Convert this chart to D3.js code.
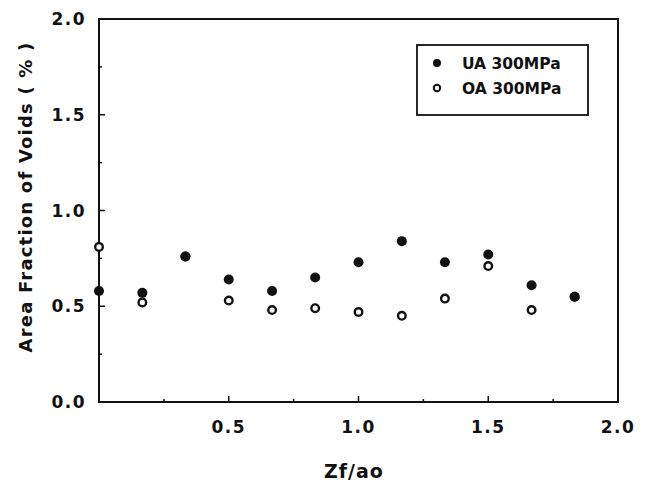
<!DOCTYPE html>
<html>
<head>
<meta charset="utf-8">
<script src="https://cdn.jsdelivr.net/npm/d3@7"></script>
<style>
  body { margin: 0; background: #fff; }
  svg text { font-family: "DejaVu Sans", Arial, sans-serif; font-weight: bold; fill: #111; }
</style>
</head>
<body>
<svg width="651" height="483"></svg>
<script>
// Zf/ao positions and measured void fractions (%)
var zf = [0, 0.167, 0.333, 0.5, 0.667, 0.833, 1.0, 1.167, 1.333, 1.5, 1.667, 1.833];
var ua = [0.58, 0.57, 0.76, 0.64, 0.58, 0.65, 0.73, 0.84, 0.73, 0.77, 0.61, 0.55];
var oa = [0.81, 0.52, 0.76, 0.53, 0.48, 0.49, 0.47, 0.45, 0.54, 0.71, 0.48, 0.55];
var xTicks = [0.5, 1.0, 1.5, 2.0];
var yTicks = [0.0, 0.5, 1.0, 1.5, 2.0];
var legendLabels = ["UA 300MPa", "OA 300MPa"];

var pl = 99, pr = 618, pt = 19, pb = 402;

var svg = d3.select("svg");
var x = d3.scaleLinear().domain([0, 2]).range([pl, pr]);
var y = d3.scaleLinear().domain([0, 2]).range([pb, pt]);

// frame
svg.append("rect")
  .attr("x", pl).attr("y", pt)
  .attr("width", pr - pl).attr("height", pb - pt)
  .attr("fill", "none").attr("stroke", "#111").attr("stroke-width", 2);

// inward ticks, major every 0.5, minor every 0.25
var minor = d3.range(0.25, 2, 0.25);
svg.append("g").selectAll("line").data(minor).enter().append("line")
  .attr("x1", function(d) { return x(d); }).attr("x2", function(d) { return x(d); })
  .attr("y1", pb).attr("y2", function(d) { return pb - (d % 0.5 == 0 ? 6 : 3); })
  .attr("stroke", "#111").attr("stroke-width", 1.5);
svg.append("g").selectAll("line").data(minor).enter().append("line")
  .attr("y1", function(d) { return y(d); }).attr("y2", function(d) { return y(d); })
  .attr("x1", pl).attr("x2", function(d) { return pl + (d % 0.5 == 0 ? 6 : 3); })
  .attr("stroke", "#111").attr("stroke-width", 1.5);

// tick labels
svg.append("g").selectAll("text").data(xTicks).enter().append("text")
  .attr("x", function(d) { return x(d); }).attr("y", 433)
  .attr("text-anchor", "middle").attr("font-size", 17).attr("letter-spacing", 1.5)
  .text(function(d) { return d.toFixed(1); });
svg.append("g").selectAll("text").data(yTicks).enter().append("text")
  .attr("x", 86).attr("y", function(d) { return y(d) + 6; })
  .attr("text-anchor", "end").attr("font-size", 17).attr("letter-spacing", 1.5)
  .text(function(d) { return d.toFixed(1); });

// axis titles
svg.append("text")
  .attr("x", 354).attr("y", 478)
  .attr("text-anchor", "middle").attr("font-size", 19).attr("letter-spacing", 1)
  .text("Zf/ao");
svg.append("text")
  .attr("transform", "translate(32,197) rotate(-90)")
  .attr("text-anchor", "middle").attr("font-size", 18).attr("letter-spacing", 1.2)
  .text("Area Fraction of Voids ( % )");

// points: open first, filled on top
svg.append("g").selectAll("circle").data(oa).enter().append("circle")
  .attr("cx", function(d, i) { return x(zf[i]); })
  .attr("cy", function(d) { return y(d); })
  .attr("r", 3.8).attr("fill", "#fff").attr("stroke", "#111").attr("stroke-width", 2.4);
svg.append("g").selectAll("circle").data(ua).enter().append("circle")
  .attr("cx", function(d, i) { return x(zf[i]); })
  .attr("cy", function(d) { return y(d); })
  .attr("r", 5).attr("fill", "#111");

// legend
var lg = svg.append("g");
lg.append("rect")
  .attr("x", 417).attr("y", 45).attr("width", 171).attr("height", 70)
  .attr("fill", "#fff").attr("stroke", "#111").attr("stroke-width", 1.8);
lg.selectAll("text").data(legendLabels).enter().append("text")
  .attr("x", 462).attr("y", function(d, i) { return 69 + i * 25; })
  .attr("font-size", 15.5)
  .text(function(d) { return d; });
lg.append("circle").attr("cx", 437).attr("cy", 63).attr("r", 4).attr("fill", "#111");
lg.append("circle").attr("cx", 437).attr("cy", 88).attr("r", 3.2)
  .attr("fill", "#fff").attr("stroke", "#111").attr("stroke-width", 2);
</script>
</body>
</html>
